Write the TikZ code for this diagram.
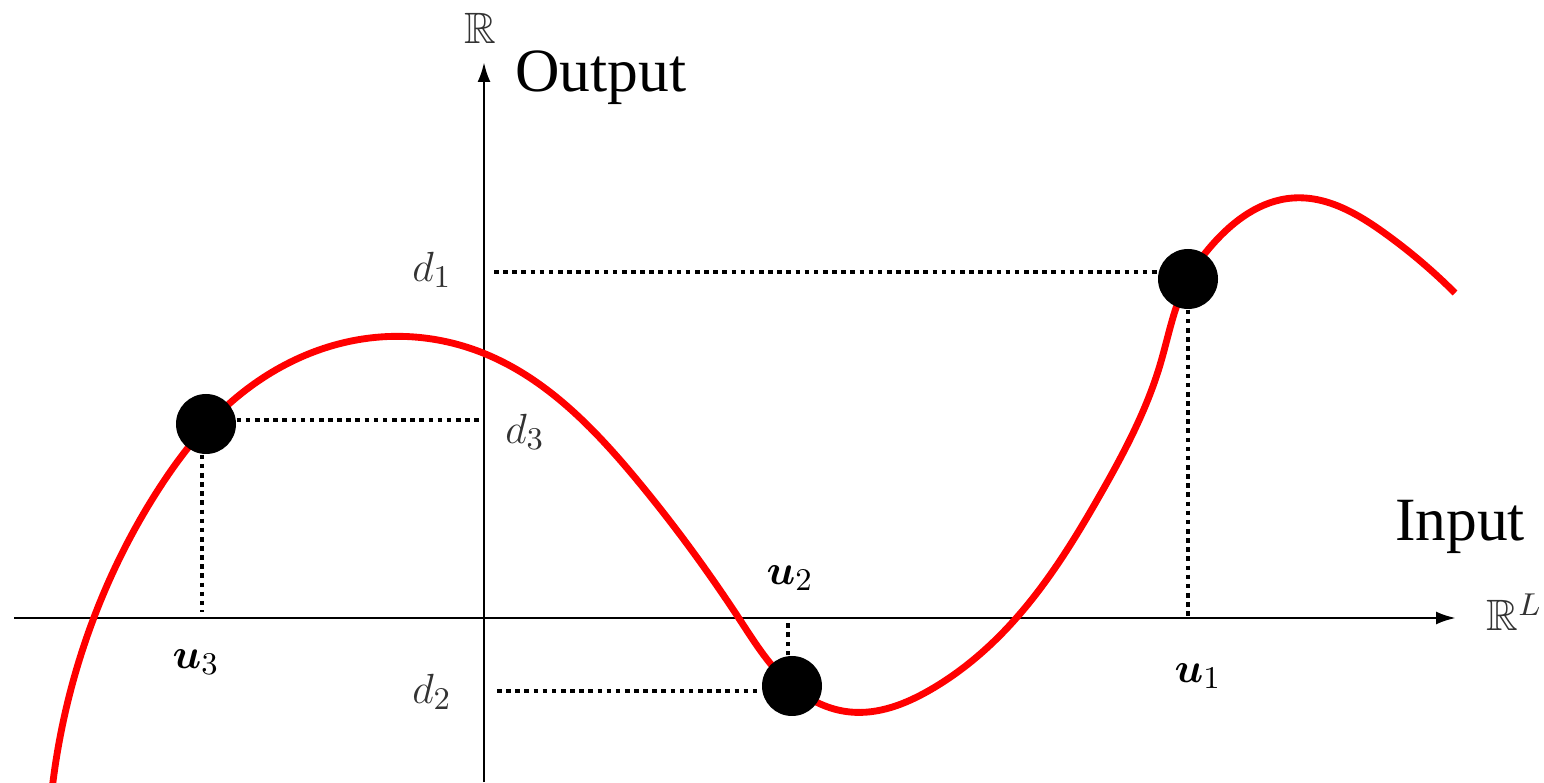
\documentclass[tikz,border=0pt]{standalone}
\usepackage{amsmath,amssymb,bm}
\usepackage{fontspec}
\newfontfamily\txtfont{Liberation Serif}
\usetikzlibrary{arrows.meta,positioning,hobby}
\definecolor{cred}{HTML}{FF0000}
\definecolor{lgray}{HTML}{333333}
\tikzset{
  % axes and guide lines
  axis/.style  = {-{Latex[length=2mm,width=1.3mm]}, line width=0.8pt, black},
  guide/.style = {line width=1.3pt, dash pattern=on 1.3pt off 1.3pt, black},
  fn/.style    = {line width=1.95pt, cred},
  pt/.style    = {circle, fill=black, inner sep=0pt, minimum size=6mm},
  dlbl/.style  = {font=\fontsize{12.5}{14}\selectfont, text=lgray},
  ulbl/.style  = {font=\fontsize{13}{15}\selectfont, text=black},
  ttl/.style   = {font=\txtfont\fontsize{17.5}{20}\selectfont},
}
\begin{document}
\begin{tikzpicture}[x=1cm,y=1cm]
\useasboundingbox (0,0) rectangle (15.44,7.82);
% axes
\coordinate (o) at (4.84,1.64);
\coordinate (xl) at (0.14,1.64);
\coordinate (xr) at (14.56,1.64);
\coordinate (yb) at (4.84,0);
\coordinate (yt) at (4.84,7.20);
\draw[axis] (xl) -- (xr);
\draw[axis] (yb) -- (yt);
% function
\draw[fn] (0.52,-0.08) to[curve through={(0.93,1.62) (1.60,2.95) (2.30,3.79)
  (3.80,4.45) (4.83,4.29) (6.37,3.02) (7.40,1.62) (7.92,0.96) (8.50,0.70)
  (9.30,0.92) (10.10,1.57) (11.00,2.87) (11.60,4.17) (11.88,5.03)
  (12.12,5.37) (12.93,5.84) (13.83,5.50)}] (14.55,4.89);
% samples
\node[pt] (p1) at (11.88,5.03) {};
\node[pt] (p2) at (7.92,0.96) {};
\node[pt] (p3) at (2.06,3.58) {};
% guides
\coordinate (g1) at (4.94,5.10);
\coordinate (g2) at (4.97,0.91);
\draw[guide] (g1) -- (g1 -| p1.west);
\draw[guide] (p1.south) -- (p1.south |- o);
\draw[guide] (p3.east |- 0,3.62) -- (o |- 0,3.62);
\draw[guide] ([xshift=-0.4mm]p3.south) -- ([xshift=-0.4mm]p3.south |- 0,1.70);
\draw[guide] (g2) -- (g2 -| p2.west);
\draw[guide] ([xshift=-0.4mm]p2.north) -- ([xshift=-0.4mm]p2.north |- 0,1.59);
% labels
\node[dlbl] (rr) at (4.80,7.54) {$\mathbb{R}$};
\node[ttl, anchor=west] (out) at (5.03,7.04) {Output};
\node[ttl] (inp) at (14.60,2.55) {Input};
\node[dlbl, anchor=west, inner sep=0pt] (rl) at (14.86,1.70) {$\mathbb{R}^L$};
\node[dlbl] (d1) at (4.32,5.12) {$d_1$};
\node[dlbl] (d2) at (4.32,0.90) {$d_2$};
\node[dlbl] (d3) at (5.25,3.50) {$d_3$};
\node[ulbl] (u1) at (11.98,1.06) {$\bm{u}_1$};
\node[ulbl] (u2) at (7.90,2.04) {$\bm{u}_2$};
\node[ulbl] (u3) at (1.96,1.20) {$\bm{u}_3$};
\end{tikzpicture}
\end{document}
